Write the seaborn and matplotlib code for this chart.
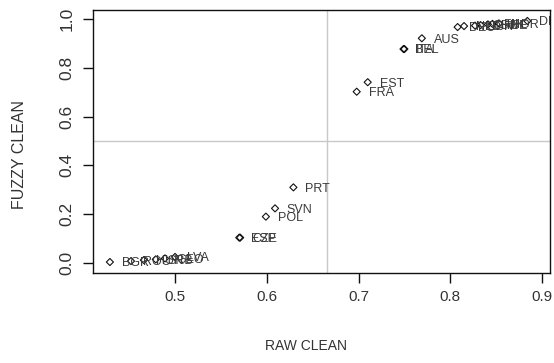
import matplotlib
matplotlib.use("Agg")
import matplotlib.pyplot as plt
import seaborn as sns
import pandas as pd

countries = ["BGR", "ROU", "HUN", "SRB", "GEO", "LVA",
             "ESP", "CZE", "POL", "SVN", "PRT",
             "FRA", "EST", "BEL", "ITA", "AUS",
             "DEU", "NLD", "GBR", "CHE", "SWE", "FIN", "NOR", "DNK"]
raw_clean = [0.429, 0.452, 0.466, 0.479, 0.489, 0.500,
             0.570, 0.571, 0.599, 0.609, 0.629,
             0.698, 0.710, 0.749, 0.750, 0.769,
             0.808, 0.815, 0.827, 0.833, 0.841, 0.846, 0.853, 0.884]
fuzzy_clean = [0.004, 0.008, 0.012, 0.015, 0.019, 0.025,
               0.104, 0.104, 0.190, 0.224, 0.310,
               0.702, 0.741, 0.877, 0.877, 0.921,
               0.967, 0.971, 0.973, 0.975, 0.978, 0.980, 0.982, 0.992]
x_ref = 0.6654
y_ref = 0.5
x_ticks = [0.5, 0.6, 0.7, 0.8, 0.9]
y_ticks = [0.0, 0.2, 0.4, 0.6, 0.8, 1.0]

df = pd.DataFrame({"country": countries, "raw": raw_clean, "fuzzy": fuzzy_clean})

sns.set_style("white")
plt.rcParams["font.family"] = ["Liberation Sans", "DejaVu Sans"]

fig = plt.figure(figsize=(5.54, 3.63), dpi=100)
ax = fig.add_axes([0.1679, 0.2479, 0.9928 - 0.1679, 0.9725 - 0.2479])

ax.axvline(x_ref, color="#c8c8c8", lw=1, zorder=0)
ax.axhline(y_ref, color="#c8c8c8", lw=1, zorder=0)

sns.scatterplot(data=df, x="raw", y="fuzzy", ax=ax, marker="D",
                s=13, facecolor="none", edgecolor="#111111", linewidth=0.8,
                zorder=3)

for c, xv, yv in zip(countries, raw_clean, fuzzy_clean):
    ax.annotate(c, (xv, yv), xytext=(8.5, -1), textcoords="offset points",
                ha="left", va="center", fontsize=9, color="#3a3a3a",
                annotation_clip=False, clip_on=True)

ax.set_xlim(0.4106, 0.9087)
ax.set_ylim(-0.041, 1.037)
ax.set_xticks(x_ticks)
ax.set_xticklabels([f"{t:.1f}" for t in x_ticks])
ax.set_yticks(y_ticks)
ax.set_yticklabels([f"{t:.1f}" for t in y_ticks], rotation=90, va="center")
ax.tick_params(axis="both", direction="out", length=7.5, width=1,
               color="#111111", labelcolor="#333333", pad=5,
               bottom=True, left=True)
ax.tick_params(axis="x", labelsize=11)
ax.tick_params(axis="y", labelsize=12.5, pad=6)
for sp in ax.spines.values():
    sp.set_visible(True)
    sp.set_color("#111111")
    sp.set_linewidth(1)

ax.set_xlabel("RAW CLEAN", fontsize=10, color="#333333")
ax.set_ylabel("FUZZY CLEAN", fontsize=11.5, color="#333333")
ax.xaxis.set_label_coords(0.466, -0.251)
ax.yaxis.set_label_coords(-0.145, 0.449)

fig.savefig("out.png", dpi=100)
